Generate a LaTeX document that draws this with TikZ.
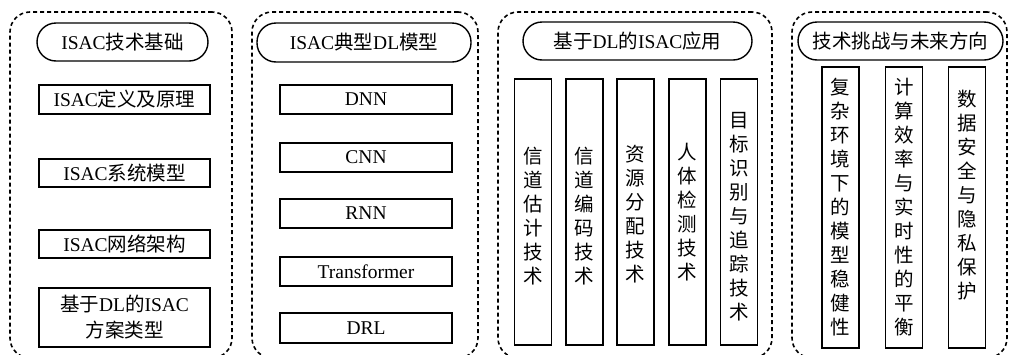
\documentclass[tikz,border=0pt]{standalone}
\usepackage{fontspec}
\setmainfont{Liberation Serif}
\newfontfamily\cjk{Noto Sans CJK SC}
\newcommand\zh[1]{{\cjk #1}}
\begin{document}
\begin{tikzpicture}[x=1pt,y=-1pt,
  panel/.style={draw, line width=1.6pt, dash pattern=on 4pt off 3pt, rounded corners=20pt, inner sep=0pt},
  pill/.style={draw, line width=1.4pt, rounded corners=19pt, inner sep=0pt, font=\fontsize{19.5}{24}\selectfont},
  hbox/.style={draw, line width=1.8pt, inner sep=0pt, align=center, font=\fontsize{19.5}{26}\selectfont},
  vbox/.style={draw, line width=1.8pt, inner sep=0pt},
  vtext/.style={inner sep=0pt, align=center, font=\fontsize{19.5}{24}\cjk}]
\useasboundingbox (0,0) rectangle (1009,354);
\clip (0,0) rectangle (1009,354);
% panels
\node[panel, minimum width=222pt, minimum height=346pt] (p1) at (121,185) {};
\node[panel, minimum width=226pt, minimum height=346pt] (p2) at (365,185) {};
\node[panel, minimum width=274pt, minimum height=346pt] (p3) at (635,185) {};
\node[panel, minimum width=215pt, minimum height=346pt] (p4) at (899.5,185) {};
% panel 1
\node[pill, minimum width=171pt, minimum height=38pt] (h1) at (122.5,42) {ISAC\zh{技术基础}};
\node[hbox, minimum width=171pt, minimum height=29pt] (a1) at (124.5,99.5) {ISAC\zh{定义及原理}};
\node[hbox, minimum width=171pt, minimum height=28pt] (a2) at (124.5,173) {ISAC\zh{系统模型}};
\node[hbox, minimum width=171pt, minimum height=28pt] (a3) at (124.5,244) {ISAC\zh{网络架构}};
\node[hbox, minimum width=171pt, minimum height=59pt] (a4) at (124.5,317.5) {\zh{基于}DL\zh{的}ISAC\\\zh{方案类型}};
% panel 2
\node[pill, minimum width=214pt, minimum height=39pt] (h2) at (364,42.5) {ISAC\zh{典型}DL\zh{模型}};
\node[hbox, minimum width=172pt, minimum height=29pt] (b1) at (366,99.5) {DNN};
\node[hbox, minimum width=172pt, minimum height=29pt] (b2) at (366,157.5) {CNN};
\node[hbox, minimum width=172pt, minimum height=29pt] (b3) at (366,213.5) {RNN};
\node[hbox, minimum width=172pt, minimum height=29pt] (b4) at (366,271.5) {Transformer};
\node[hbox, minimum width=172pt, minimum height=30pt] (b5) at (366,328) {DRL};
% panel 3
\node[pill, minimum width=229pt, minimum height=38pt] (h3) at (637.5,41) {\zh{基于}DL\zh{的}ISAC\zh{应用}};
\foreach \n/\x in {c1/533, c2/584.5, c3/635.5, c4/687.5, c5/739}
  \node[vbox, minimum width=37pt, minimum height=266pt] (\n) at (\x,212) {};
\node[vtext] (t1) at ([yshift=-4pt]c1.center) {信\\道\\估\\计\\技\\术};
\node[vtext] (t2) at ([yshift=-4pt]c2.center) {信\\道\\编\\码\\技\\术};
\node[vtext] (t3) at ([yshift=-2pt]c3.center) {资\\源\\分\\配\\技\\术};
\node[vtext] (t4) at ([yshift=0pt]c4.center) {人\\体\\检\\测\\技\\术};
\node[vtext] (t5) at ([yshift=-5pt]c5.center) {目\\标\\识\\别\\与\\追\\踪\\技\\术};
% panel 4
\node[pill, minimum width=205pt, minimum height=38pt] (h4) at (900.5,41) {\zh{技术挑战与未来方向}};
\foreach \n/\x in {d1/840.5, d2/904, d3/967}
  \node[vbox, minimum width=37pt, minimum height=281pt] (\n) at (\x,207.5) {};
\node[vtext] (u1) at (d1.center) {复\\杂\\环\\境\\下\\的\\模\\型\\稳\\健\\性};
\node[vtext] (u2) at (d2.center) {计\\算\\效\\率\\与\\实\\时\\性\\的\\平\\衡};
\node[vtext] (u3) at ([yshift=12pt]d3.center) {数\\据\\安\\全\\与\\隐\\私\\保\\护};
\end{tikzpicture}
\end{document}
